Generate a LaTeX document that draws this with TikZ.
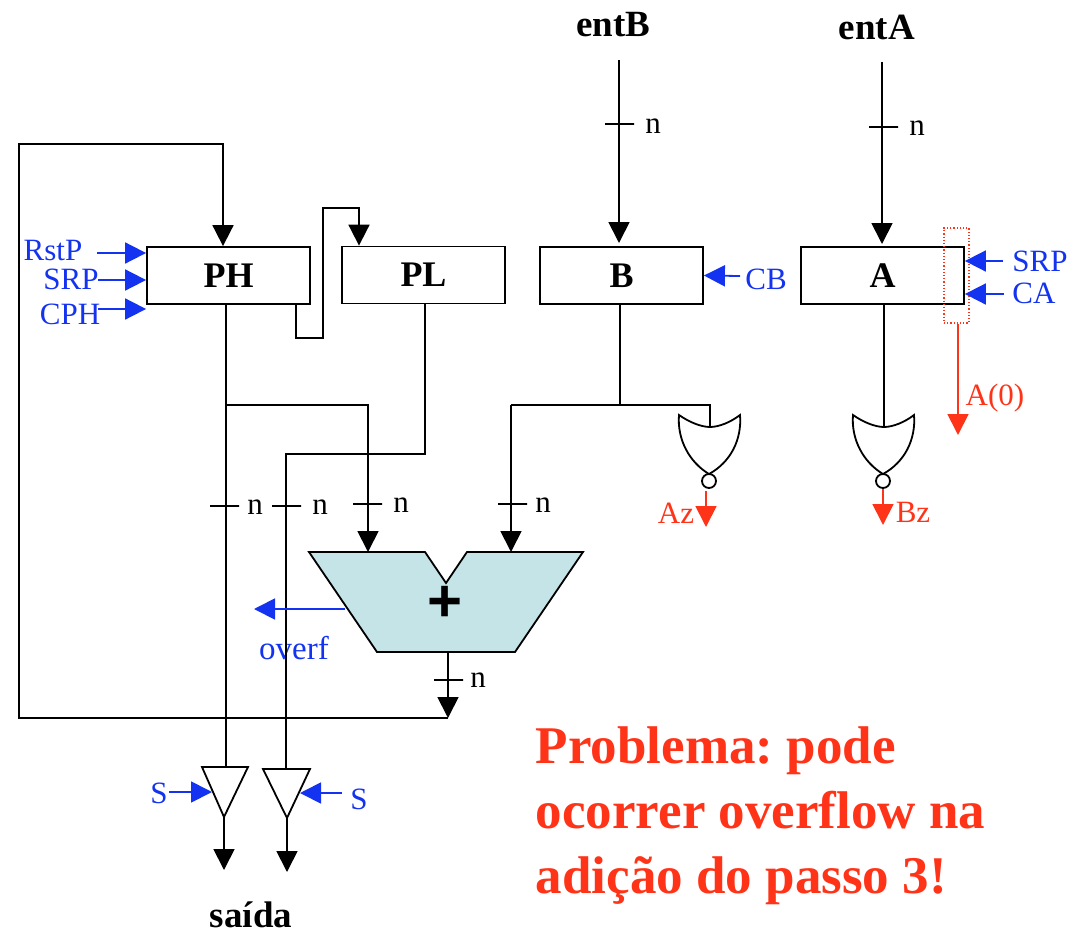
\documentclass[tikz,border=0pt]{standalone}
\usepackage{fontspec}
\setmainfont{Liberation Serif}
\newfontfamily\plusfont{Liberation Sans}
\usepackage{tikz}
\usetikzlibrary{arrows.meta}
\definecolor{sigblue}{HTML}{1433F0}
\definecolor{sigred}{HTML}{FF3318}
\definecolor{addfill}{HTML}{C5E4E7}
\newcommand{\norgate}[2]{\draw [shift={(#1,#2)}] (-30,-59) .. controls (-20,-52) and (-8,-47) .. (1,-47) .. controls (10,-47) and (22,-52) .. (31,-59) .. controls (33,-35) and (22,-12) .. (0,0) .. controls (-20,-12) and (-32,-35) .. (-30,-59) -- cycle;}

\begin{document}
\frenchspacing
\begin{tikzpicture}[x=1pt,y=-1pt,line width=1.8pt]
    \tikzstyle{reg}=[rectangle,draw,minimum width=163pt,minimum height=57pt,inner sep=0pt,font=\fontsize{36}{40}\selectfont\bfseries]
    \tikzstyle{title}=[inner sep=0pt,font=\fontsize{37}{42}\selectfont\bfseries]
    \tikzstyle{lab}=[inner sep=0pt,font=\fontsize{31}{36}\selectfont]
    \tikzstyle{ctl}=[lab,text=sigblue]
    \tikzstyle{flag}=[lab,text=sigred]
    \tikzstyle{tick}=[rectangle,draw,minimum width=29pt,minimum height=0pt,inner sep=0pt]
    \tikzstyle{bubble}=[circle,draw,minimum size=14pt,inner sep=0pt]
    \tikzstyle{tip}=[-{Triangle[length=21pt,width=21pt]}]
    \tikzstyle{bluearr}=[tip,draw=sigblue,color=sigblue]
    \tikzstyle{redarr}=[tip,draw=sigred,color=sigred]
    \useasboundingbox (0,0) rectangle (1085,932);
    \node (entb) at (613,25) [title] {entB};
    \node (enta) at (877,27) [title] {entA};
    \node (saida) at (251,915) [title] {saída};
    \node (ph) at (228.5,275.5) [reg] {\raisebox{-3pt}{PH}};
    \node (pl) at (423.5,275) [reg] {\raisebox{-3pt}{PL}};
    \node (b) at (621.5,275.5) [reg] {\raisebox{-3pt}{B}};
    \node (a) at (882.5,275.5) [reg] {\raisebox{-4pt}{A}};
    \node (a0) at (956.5,275.5) [rectangle,draw=sigred,dotted,line width=1.2pt,minimum width=25pt,minimum height=95pt,inner sep=0pt] {};
    \node (rstp) at (53,250) [ctl] {RstP};
    \node (srpp) at (71,279) [ctl] {SRP};
    \node (cph) at (70,314) [ctl] {CPH};
    \node (cb) at (766,279) [ctl] {CB};
    \node (srpa) at (1040,261) [ctl] {SRP};
    \node (ca) at (1034,293) [ctl] {CA};
    \node (overf) at (294,648) [ctl,font=\fontsize{33}{36}\selectfont] {overf};
    \node (s1) at (159,793) [ctl] {S};
    \node (s2) at (359,799) [ctl] {S};
    \node (az) at (676,513) [flag] {Az};
    \node (bz) at (913,512) [flag] {Bz};
    \node (a0t) at (995,398) [flag] {A(0)};
    \node (n1) at (653,126) [lab] {n};
    \node (n2) at (917,128) [lab] {n};
    \node (n3) at (255,507) [lab] {n};
    \node (n4) at (320,507) [lab] {n};
    \node (n5) at (401,505) [lab] {n};
    \node (n6) at (543,505) [lab] {n};
    \node (n7) at (478,680) [lab] {n};
    \node (t1) at (619.5,124) [tick] {};
    \node (t2) at (883.5,127) [tick] {};
    \node (t3) at (224.5,506) [tick] {};
    \node (t4) at (286.5,506) [tick] {};
    \node (t5) at (367.5,504) [tick] {};
    \node (t6) at (512.5,504) [tick] {};
    \node (t7) at (448.5,680) [tick] {};
    \coordinate (bin) at (619,60);
    \coordinate (ain) at (882,62);
    \coordinate (addL) at (368,552);
    \coordinate (addR) at (511,552);
    \coordinate (addO) at (448,652);
    \coordinate (addV) at (345,609);
    \coordinate (ovfE) at (254,609);
    \coordinate (fb) at (448,718);
    \coordinate (tri1i) at (226,767);
    \coordinate (tri1o) at (224,817);
    \coordinate (tri2i) at (286,769);
    \coordinate (tri2o) at (287,818);
    \coordinate (tri1e) at (224,870);
    \coordinate (tri2e) at (287,872);
    \coordinate (gate1i) at (710,428);
    \coordinate (gate2i) at (884,427);
    \coordinate (aze) at (706,527);
    \coordinate (bze) at (883,525);
    \coordinate (a0e) at (958,435);
    \coordinate (bbr) at (620,405);
    \coordinate (abr) at (511,405);
    \coordinate (phbr) at (226,405);
    \coordinate (rstpe) at (97,253);
    \coordinate (srppe) at (98,280);
    \coordinate (cphe) at (98,309);
    \coordinate (cbe) at (740,276);
    \coordinate (srpae) at (1003,261);
    \coordinate (cae) at (1004,294);
    \coordinate (s1e) at (169,792);
    \coordinate (s2e) at (342,793);
    \coordinate (s1h) at (212,792);
    \coordinate (s2h) at (300,793);
    \draw [fill=addfill] (309,552) -- (425,552) -- (446,583) -- (467,552) -- (583,552) -- (515,652) -- (377,652) -- cycle;
    \node (plus) at (445,604) [inner sep=0pt,font=\fontsize{60}{60}\selectfont\plusfont\bfseries] {+};
    \draw (202,767) -- (248,767) -- (tri1o) -- cycle;
    \draw (263,769) -- (310,769) -- (tri2o) -- cycle;
    \norgate{709}{474}
    \norgate{883}{474}
    \node (bub1) at (709,481) [bubble] {};
    \node (bub2) at (883,481) [bubble] {};
    \draw [tip] (bin) -- (619,243);
    \draw [tip] (ain) -- (882,244);
    \draw [tip] (fb) -- (19,718) -- (19,144) -- (223,144) -- ([xshift=-5.5pt]ph.north);
    \draw [tip] ([xshift=67.5pt]ph.south) -- ++(0,33) -- ++(27,0) -- ++(0,-130) -- ++(36,0) -- ([xshift=-64.5pt]pl.north);
    \draw (ph.south -| phbr) -- (tri1i);
    \draw [tip] (phbr) -- (368,405) -- (addL);
    \draw (pl.south) ++(1.5,0) -- (425,454) -- (286,454) -- (tri2i);
    \draw (b.south -| bbr) -- (bbr);
    \draw (gate1i) -- (710,405) -- (abr);
    \draw [tip] (abr) -- (addR);
    \draw (a.south -| gate2i) -- (gate2i);
    \draw [tip] (addO) -- (fb);
    \draw [tip] (tri1o) -- (tri1e);
    \draw [tip] (tri2o) -- (tri2e);
    \draw [redarr] (bub1.south -| aze) ++(0,2) -- (aze);
    \draw [redarr] (bub2.south) -- (bze);
    \draw [redarr] (a0.south -| a0e) -- (a0e);
    \draw [bluearr] (rstpe) -- ([yshift=22.5pt]ph.west);
    \draw [bluearr] (srppe) -- ([yshift=-4.5pt]ph.west);
    \draw [bluearr] (cphe) -- ([yshift=-33.5pt]ph.west);
    \draw [bluearr] (cbe) -- (b.east);
    \draw [bluearr] (srpae) -- ([yshift=14.5pt]a.east);
    \draw [bluearr] (cae) -- ([yshift=-18.5pt]a.east);
    \draw [bluearr] (addV) -- (ovfE);
    \draw [bluearr] (s1e) -- (s1h);
    \draw [bluearr] (s2e) -- (s2h);
    \node (prob) at (535,815.5) [anchor=west,align=left,inner sep=0pt,text=sigred,font=\fontsize{53}{65}\selectfont\bfseries] {Problema: pode\\ocorrer overflow na\\adição do passo 3!};
\end{tikzpicture}
\end{document}
